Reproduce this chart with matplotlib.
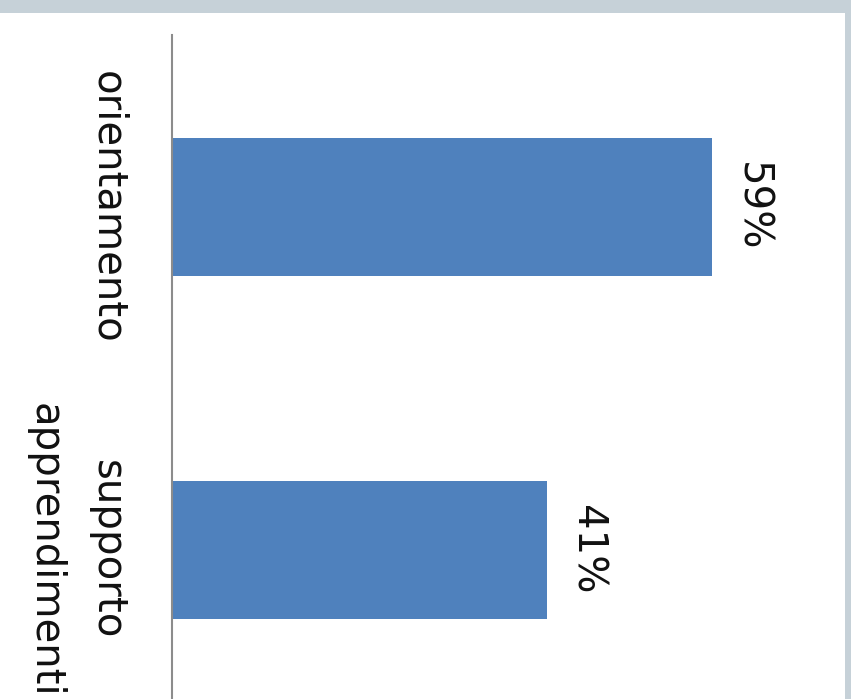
import matplotlib
matplotlib.use("Agg")
import matplotlib.pyplot as plt
from matplotlib.patches import Rectangle
import matplotlib.transforms as mtransforms

categories = ["orientamento", "supporto\napprendimenti"]
values = [59, 41]

W, H = 851, 699
fig = plt.figure(figsize=(W / 100, H / 100), dpi=100)
fig.patch.set_facecolor("#c6d1d8")
# white chart panel inside the grey frame
fig.patches.append(Rectangle((0, 0), 845 / W, (H - 13) / H, transform=fig.transFigure,
                             facecolor="white", edgecolor="none", zorder=-10))

left_px, right_px = 172, 808
top_px, bottom_px = 35, 699
ax = fig.add_axes([left_px / W, 1 - bottom_px / H, (right_px - left_px) / W,
                   (bottom_px - top_px) / H])
ax.set_facecolor("none")
ax.set_zorder(5)

pos = list(range(len(categories)))
ax.barh(pos, values, height=0.4, color="#4f81bd", zorder=2)
ax.set_xlim(0, 69.5)
ax.set_ylim(1.434, -0.501)

for s in ["top", "right", "bottom"]:
    ax.spines[s].set_visible(False)
ax.spines["left"].set_color("#8c8c8c")
ax.spines["left"].set_linewidth(1.5)
ax.set_xticks([])
ax.set_yticks([])

trans = mtransforms.blended_transform_factory(fig.transFigure, ax.transData)
for p, lab in zip(pos, categories):
    ax.text(127 / W, p, lab, transform=trans, rotation=-90, ha="right", va="center",
            multialignment="center", fontsize=29, linespacing=1.72, color="#111111",
            family="DejaVu Sans", clip_on=False)

for p, v in zip(pos, values):
    ax.annotate(f"{v}%", xy=(v, p), xytext=(14, 0), textcoords="offset points",
                rotation=-90, ha="left", va="center", fontsize=29, color="#111111",
                family="DejaVu Sans")

fig.savefig("out.png", dpi=100, facecolor=fig.get_facecolor())
